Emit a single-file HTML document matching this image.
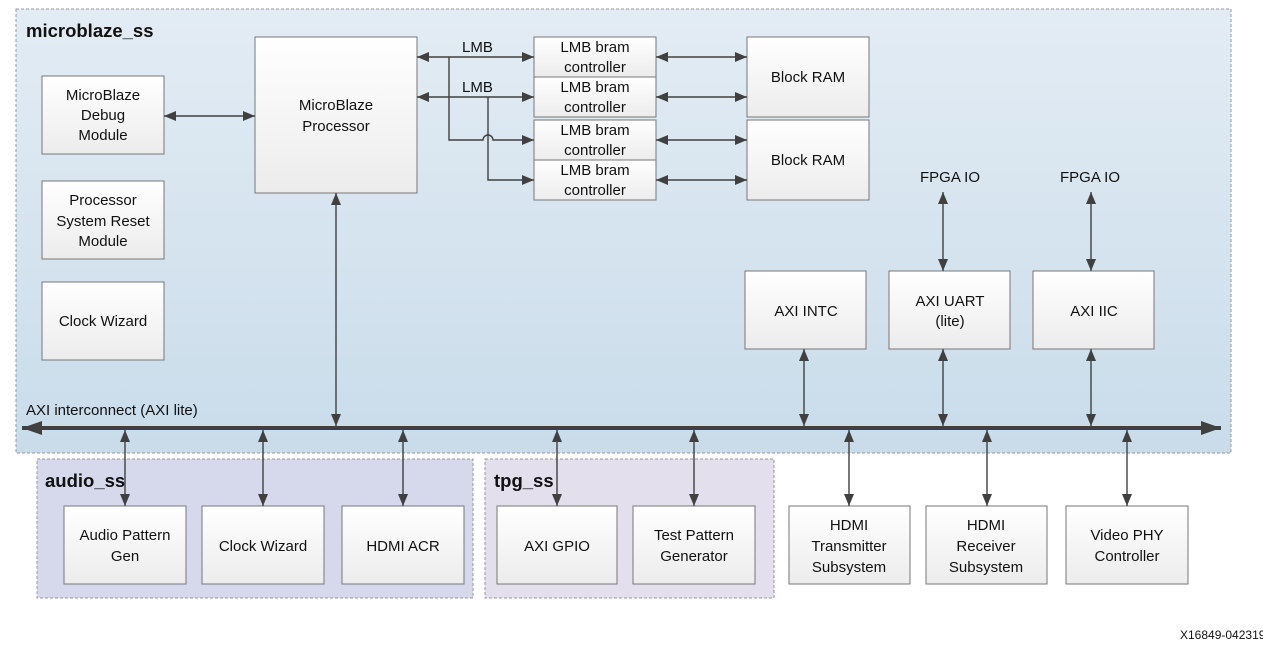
<!DOCTYPE html>
<html><head><meta charset="utf-8"><style>
html,body{margin:0;padding:0;background:#fff;}
svg{display:block;}
text{font-family:"Liberation Sans",sans-serif;font-size:15px;fill:#111;text-anchor:middle;}
.t{font-weight:bold;font-size:18.5px;text-anchor:start;}
.b{fill:url(#bx);stroke:#777;stroke-width:1;}
.l{stroke:#404040;stroke-width:1.4;fill:none;}
</style></head><body>
<svg width="1263" height="648" viewBox="0 0 1263 648">
<defs>
<linearGradient id="bg" x1="0" y1="0" x2="0" y2="1"><stop offset="0" stop-color="#e3ecf4"/><stop offset="1" stop-color="#c9dcea"/></linearGradient>
<linearGradient id="bx" x1="0" y1="0" x2="0" y2="1"><stop offset="0" stop-color="#ffffff"/><stop offset="1" stop-color="#ececec"/></linearGradient>
<marker id="a" viewBox="0 0 12 10" refX="12" refY="5" markerWidth="12" markerHeight="10" markerUnits="userSpaceOnUse" orient="auto-start-reverse"><path d="M0,0L12,5L0,10z" fill="#404040"/></marker>
<marker id="A" viewBox="0 0 20 14" refX="20" refY="7" markerWidth="20" markerHeight="14" markerUnits="userSpaceOnUse" orient="auto-start-reverse"><path d="M0,0L20,7L0,14z" fill="#404040"/></marker>
</defs>
<rect x="16" y="9" width="1215" height="444" fill="url(#bg)" stroke="#999" stroke-dasharray="3,2"/>
<rect x="37" y="459" width="436" height="139" fill="#d6d8ec" stroke="#999" stroke-dasharray="3,2"/>
<rect x="485" y="459" width="289" height="139" fill="#e3dfec" stroke="#999" stroke-dasharray="3,2"/>
<text class="t" x="26" y="37">microblaze_ss</text>
<text class="t" x="45" y="487">audio_ss</text>
<text class="t" x="494" y="487">tpg_ss</text>

<rect class="b" x="42" y="76" width="122" height="78"/><text x="103" y="100">MicroBlaze</text><text x="103" y="120">Debug</text><text x="103" y="140">Module</text>
<rect class="b" x="42" y="181" width="122" height="78"/><text x="103" y="205">Processor</text><text x="103" y="226">System Reset</text><text x="103" y="246">Module</text>
<rect class="b" x="42" y="282" width="122" height="78"/><text x="103" y="326">Clock Wizard</text>
<rect class="b" x="255" y="37" width="162" height="156"/><text x="336" y="110">MicroBlaze</text><text x="336" y="131">Processor</text>
<rect class="b" x="534" y="37" width="122" height="40"/><text x="595" y="52">LMB bram</text><text x="595" y="72">controller</text>
<rect class="b" x="534" y="77" width="122" height="40"/><text x="595" y="92">LMB bram</text><text x="595" y="112">controller</text>
<rect class="b" x="534" y="120" width="122" height="40"/><text x="595" y="135">LMB bram</text><text x="595" y="155">controller</text>
<rect class="b" x="534" y="160" width="122" height="40"/><text x="595" y="175">LMB bram</text><text x="595" y="195">controller</text>
<rect class="b" x="747" y="37" width="122" height="80"/><text x="808" y="82">Block RAM</text>
<rect class="b" x="747" y="120" width="122" height="80"/><text x="808" y="165">Block RAM</text>
<rect class="b" x="745" y="271" width="121" height="78"/><text x="806" y="316">AXI INTC</text>
<rect class="b" x="889" y="271" width="121" height="78"/><text x="950" y="306">AXI UART</text><text x="950" y="326">(lite)</text>
<rect class="b" x="1033" y="271" width="121" height="78"/><text x="1094" y="316">AXI IIC</text>
<text x="950" y="182">FPGA IO</text><text x="1090" y="182">FPGA IO</text>
<rect class="b" x="64" y="506" width="122" height="78"/><text x="125" y="540">Audio Pattern</text><text x="125" y="561">Gen</text>
<rect class="b" x="202" y="506" width="122" height="78"/><text x="263" y="551">Clock Wizard</text>
<rect class="b" x="342" y="506" width="122" height="78"/><text x="403" y="551">HDMI ACR</text>
<rect class="b" x="497" y="506" width="120" height="78"/><text x="557" y="551">AXI GPIO</text>
<rect class="b" x="633" y="506" width="122" height="78"/><text x="694" y="540">Test Pattern</text><text x="694" y="561">Generator</text>
<rect class="b" x="789" y="506" width="121" height="78"/><text x="849" y="530">HDMI</text><text x="849" y="551">Transmitter</text><text x="849" y="572">Subsystem</text>
<rect class="b" x="926" y="506" width="121" height="78"/><text x="986" y="530">HDMI</text><text x="986" y="551">Receiver</text><text x="986" y="572">Subsystem</text>
<rect class="b" x="1066" y="506" width="122" height="78"/><text x="1127" y="540">Video PHY</text><text x="1127" y="561">Controller</text>

<line x1="22" y1="428" x2="1221" y2="428" stroke="#404040" stroke-width="4" marker-start="url(#A)" marker-end="url(#A)"/>
<text x="26" y="415" style="text-anchor:start">AXI interconnect (AXI lite)</text>

<g class="l">
<line x1="164" y1="116" x2="255" y2="116" marker-start="url(#a)" marker-end="url(#a)"/>
<line x1="417" y1="57" x2="534" y2="57" marker-start="url(#a)" marker-end="url(#a)"/>
<line x1="417" y1="97" x2="534" y2="97" marker-start="url(#a)" marker-end="url(#a)"/>
<path d="M449,57V140H483a5,5 0 0 1 10,0H534" marker-end="url(#a)"/>
<path d="M488,97V180H534" marker-end="url(#a)"/>
<line x1="656" y1="57" x2="747" y2="57" marker-start="url(#a)" marker-end="url(#a)"/>
<line x1="656" y1="97" x2="747" y2="97" marker-start="url(#a)" marker-end="url(#a)"/>
<line x1="656" y1="140" x2="747" y2="140" marker-start="url(#a)" marker-end="url(#a)"/>
<line x1="656" y1="180" x2="747" y2="180" marker-start="url(#a)" marker-end="url(#a)"/>
<line x1="336" y1="193" x2="336" y2="426" marker-start="url(#a)" marker-end="url(#a)"/>
<line x1="804" y1="349" x2="804" y2="426" marker-start="url(#a)" marker-end="url(#a)"/>
<line x1="943" y1="349" x2="943" y2="426" marker-start="url(#a)" marker-end="url(#a)"/>
<line x1="1091" y1="349" x2="1091" y2="426" marker-start="url(#a)" marker-end="url(#a)"/>
<line x1="943" y1="192" x2="943" y2="271" marker-start="url(#a)" marker-end="url(#a)"/>
<line x1="1091" y1="192" x2="1091" y2="271" marker-start="url(#a)" marker-end="url(#a)"/>
<line x1="125" y1="430" x2="125" y2="506" marker-start="url(#a)" marker-end="url(#a)"/>
<line x1="263" y1="430" x2="263" y2="506" marker-start="url(#a)" marker-end="url(#a)"/>
<line x1="403" y1="430" x2="403" y2="506" marker-start="url(#a)" marker-end="url(#a)"/>
<line x1="557" y1="430" x2="557" y2="506" marker-start="url(#a)" marker-end="url(#a)"/>
<line x1="694" y1="430" x2="694" y2="506" marker-start="url(#a)" marker-end="url(#a)"/>
<line x1="849" y1="430" x2="849" y2="506" marker-start="url(#a)" marker-end="url(#a)"/>
<line x1="987" y1="430" x2="987" y2="506" marker-start="url(#a)" marker-end="url(#a)"/>
<line x1="1127" y1="430" x2="1127" y2="506" marker-start="url(#a)" marker-end="url(#a)"/>
</g>
<text x="462" y="52" style="text-anchor:start">LMB</text>
<text x="462" y="92" style="text-anchor:start">LMB</text>
<text x="1180" y="639" style="font-size:12px;text-anchor:start">X16849-042319</text>
</svg>
</body></html>
